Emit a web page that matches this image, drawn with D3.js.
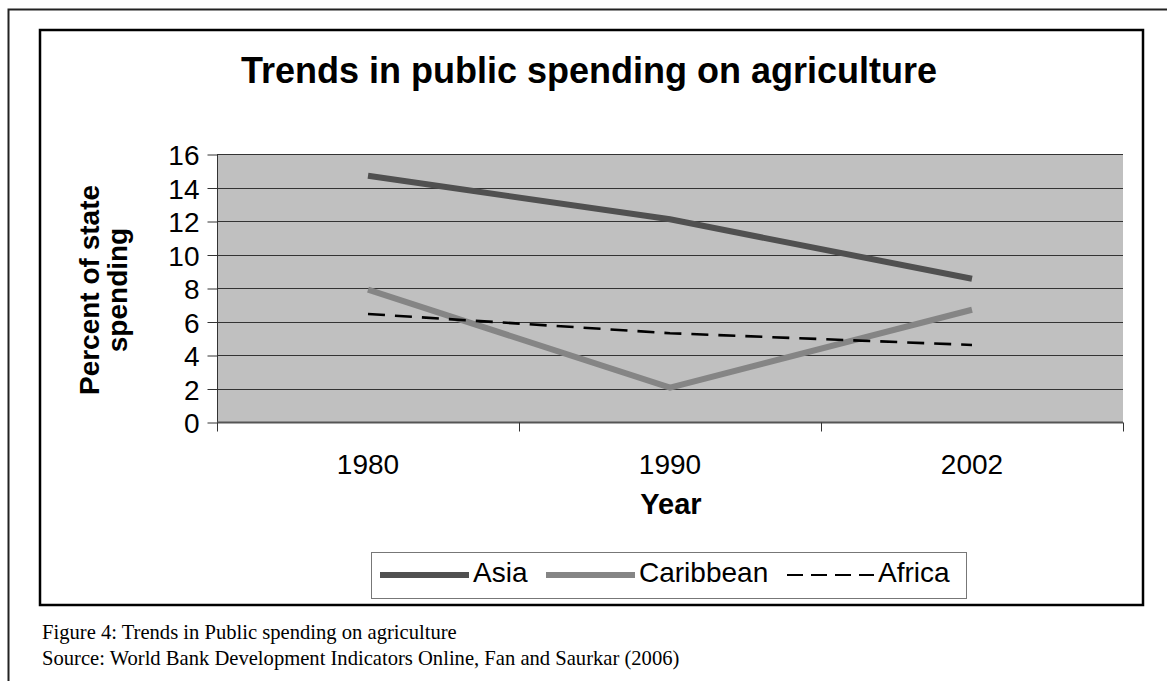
<!DOCTYPE html>
<html>
<head>
<meta charset="utf-8">
<script src="https://cdn.jsdelivr.net/npm/d3@7"></script>
<style>
  body { margin: 0; background: #fff; }
  svg { display: block; }
</style>
</head>
<body>
<div id="chart"></div>
<script>
// data
const years = ["1980", "1990", "2002"];
const asia = [14.7, 12.1, 8.55];
const caribbean = [7.9, 2.05, 6.7];
const africa = [6.45, 5.3, 4.6];
const yTicks = [0, 2, 4, 6, 8, 10, 12, 14, 16];

const series = [
  { name: "Asia", values: asia, color: "#505050", width: 6, dash: null },
  { name: "Caribbean", values: caribbean, color: "#858585", width: 6, dash: null },
  { name: "Africa", values: africa, color: "#000", width: 2.6, dash: "17,10" }
];

const width = 1167, height = 681;
const plot = { left: 217, right: 1123, top: 154, bottom: 422 };
const sans = "Liberation Sans, Arial, sans-serif";

const svg = d3.select("#chart").append("svg")
  .attr("width", width)
  .attr("height", height);

// outer page frame (top and left only)
svg.append("path")
  .attr("d", "M8.5," + height + "V9.5H" + width)
  .attr("fill", "none")
  .attr("stroke", "#222")
  .attr("stroke-width", 2);

// chart frame
svg.append("rect")
  .attr("x", 40).attr("y", 30)
  .attr("width", 1103).attr("height", 575)
  .attr("fill", "#fff")
  .attr("stroke", "#000")
  .attr("stroke-width", 2.5);

svg.append("text")
  .attr("x", 589).attr("y", 83)
  .attr("text-anchor", "middle")
  .attr("font-family", sans)
  .attr("font-weight", "bold")
  .attr("font-size", 36)
  .text("Trends in public spending on agriculture");

let y = d3.scaleLinear().domain([0, 16]).range([plot.bottom, plot.top]);
let xBand = d3.scaleBand().domain(years).range([plot.left, plot.right]);
let x = d3.scalePoint().domain(years).range([plot.left, plot.right]).padding(0.5);

svg.append("rect")
  .attr("x", plot.left).attr("y", plot.top)
  .attr("width", plot.right - plot.left)
  .attr("height", plot.bottom - plot.top)
  .attr("fill", "#c0c0c0");

// gridlines
svg.append("g")
  .selectAll("line")
  .data(yTicks.filter(d => d > 0))
  .enter().append("line")
  .attr("x1", plot.left).attr("x2", plot.right)
  .attr("y1", d => Math.round(y(d)) + 0.5)
  .attr("y2", d => Math.round(y(d)) + 0.5)
  .attr("stroke", "#333")
  .attr("stroke-width", 1);

// y axis
let yAxis = svg.append("g")
  .attr("transform", "translate(" + (plot.left + 0.5) + ",0.5)")
  .call(d3.axisLeft(y).tickValues(yTicks).tickSize(10).tickPadding(8));
yAxis.select(".domain").attr("stroke", "#333").attr("d", "M0," + plot.bottom + "V" + plot.top);
yAxis.selectAll(".tick line").attr("stroke", "#333");
yAxis.selectAll("text")
  .attr("font-family", sans)
  .attr("font-size", 28)
  .attr("fill", "#000")
  .attr("dy", "0.36em");

// x axis: ticks between categories, labels at centers
let xAxis = svg.append("g")
  .attr("transform", "translate(0," + (plot.bottom + 0.5) + ")");
xAxis.append("line")
  .attr("x1", plot.left).attr("x2", plot.right)
  .attr("stroke", "#555").attr("stroke-width", 2);
xAxis.selectAll(".xtick")
  .data(years.map(d => xBand(d)).concat([xBand.range()[1]]))
  .enter().append("line")
  .attr("class", "xtick")
  .attr("x1", d => Math.round(d) + 0.5).attr("x2", d => Math.round(d) + 0.5)
  .attr("y1", 0).attr("y2", 9)
  .attr("stroke", "#333");
xAxis.selectAll(".xlabel")
  .data(years)
  .enter().append("text")
  .attr("class", "xlabel")
  .attr("x", d => x(d))
  .attr("y", 51)
  .attr("text-anchor", "middle")
  .attr("font-family", sans)
  .attr("font-size", 28)
  .text(d => d);

svg.append("text")
  .attr("x", 671).attr("y", 514)
  .attr("text-anchor", "middle")
  .attr("font-family", sans)
  .attr("font-weight", "bold")
  .attr("font-size", 29)
  .text("Year");

let yTitle = svg.append("text")
  .attr("transform", "translate(99,290) rotate(-90)")
  .attr("text-anchor", "middle")
  .attr("font-family", sans)
  .attr("font-weight", "bold")
  .attr("font-size", 28);
yTitle.append("tspan").attr("x", 0).attr("y", 0).text("Percent of state");
yTitle.append("tspan").attr("x", 0).attr("y", 28).text("spending");

// lines
let line = d3.line()
  .x((d, i) => x(years[i]))
  .y(d => y(d));

svg.append("g")
  .selectAll("path")
  .data(series)
  .enter().append("path")
  .attr("d", d => line(d.values))
  .attr("fill", "none")
  .attr("stroke", d => d.color)
  .attr("stroke-width", d => d.width)
  .attr("stroke-dasharray", d => d.dash);

// legend
svg.append("rect")
  .attr("x", 371.5).attr("y", 552.5)
  .attr("width", 595).attr("height", 46)
  .attr("fill", "#fff")
  .attr("stroke", "#777")
  .attr("stroke-width", 1);

let legendX = [380, 546, 787];
let legend = svg.append("g")
  .selectAll("g")
  .data(series)
  .enter().append("g")
  .attr("transform", (d, i) => "translate(" + legendX[i] + ",575)");
legend.append("line")
  .attr("x1", 0).attr("x2", d => d.dash ? 87 : 89)
  .attr("y1", 0).attr("y2", 0)
  .attr("stroke", d => d.color)
  .attr("stroke-width", d => d.dash ? 2 : 6)
  .attr("stroke-dasharray", d => d.dash ? "16,8" : null);
legend.append("text")
  .attr("x", d => d.dash ? 91 : 93)
  .attr("y", 7)
  .attr("font-family", sans)
  .attr("font-size", 28)
  .text(d => d.name);

// caption
let caption = svg.append("text")
  .attr("font-family", "Liberation Serif, Times New Roman, serif")
  .attr("font-size", 20.6);
caption.append("tspan").attr("x", 42).attr("y", 639).text("Figure 4: Trends in Public spending on agriculture");
caption.append("tspan").attr("x", 42).attr("y", 665).text("Source: World Bank Development Indicators Online, Fan and Saurkar (2006)");
</script>
</body>
</html>
